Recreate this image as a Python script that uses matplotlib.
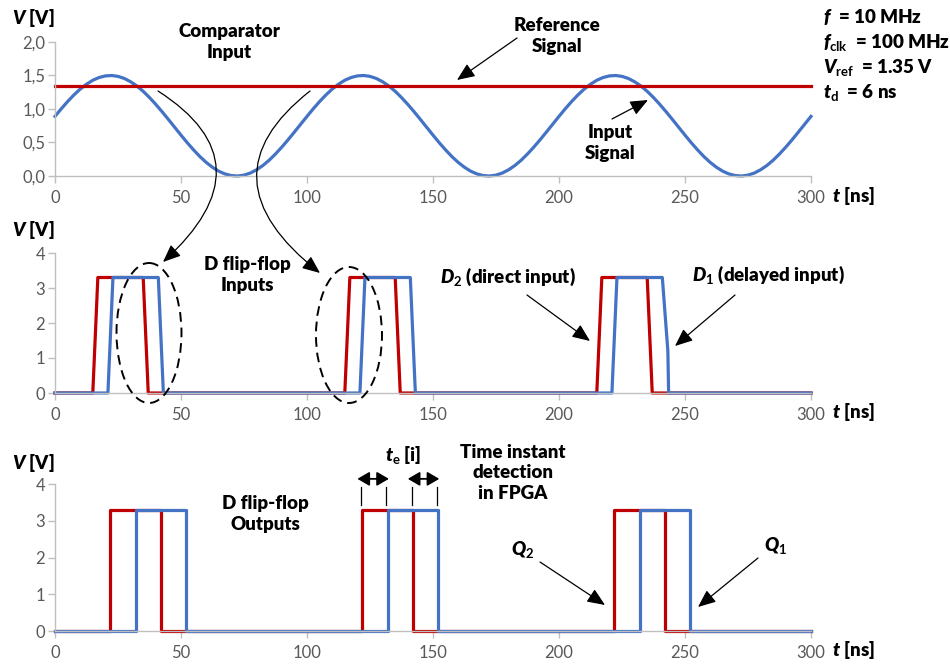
import numpy as np
import matplotlib
matplotlib.use('Agg')
import matplotlib.pyplot as plt
from matplotlib.patches import FancyArrowPatch, Ellipse
from matplotlib.path import Path
from matplotlib.ticker import FuncFormatter

# input signal, one period (f = 10 MHz -> 100 ns), read every 2.5 ns
sine_period = [0.890, 1.004, 1.111, 1.210, 1.297, 1.370, 1.429, 1.470, 1.494, 1.500,
               1.487, 1.456, 1.407, 1.343, 1.264, 1.171, 1.069, 0.959, 0.844, 0.727,
               0.610, 0.496, 0.389, 0.290, 0.203, 0.130, 0.071, 0.030, 0.006, 0.000,
               0.013, 0.044, 0.093, 0.157, 0.236, 0.329, 0.431, 0.541, 0.656, 0.773]
t_sine = np.arange(0, 300.1, 2.5)
v_sine = sine_period * 3 + [sine_period[0]]
v_ref = 1.35

# D flip-flop inputs
d2_t = [0, 15, 17, 35, 37, 115, 117, 135, 137, 215, 217, 235, 237, 300]
d2_v = [0, 0, 3.3, 3.3, 0, 0, 3.3, 3.3, 0, 0, 3.3, 3.3, 0, 0]
d1_t = [0, 21, 23, 41, 43, 121, 123, 141, 143, 221, 223, 241, 243.2, 243.5, 300]
d1_v = [0, 0, 3.3, 3.3, 0, 0, 3.3, 3.3, 0, 0, 3.3, 3.3, 1.2, 0, 0]

# D flip-flop outputs (edges)
q2_rise = [22, 122, 222]
q2_fall = [42, 142, 242]
q1_rise = [32, 132, 232]
q1_fall = [52, 152, 252]
q_high = 3.3

RED = '#C00000'
BLUE = '#4472C4'
W, H = 950, 664

plt.rcParams['font.family'] = ['Lato', 'DejaVu Sans']
plt.rcParams['mathtext.fontset'] = 'custom'
plt.rcParams['mathtext.it'] = 'Lato:italic:heavy'
plt.rcParams['mathtext.rm'] = 'Lato:bold'
plt.rcParams['mathtext.bf'] = 'Lato:bold'


def steps(rise, fall, hi):
    t, v = [0], [0]
    for r, f in zip(rise, fall):
        t += [r, r, f, f]
        v += [0, hi, hi, 0]
    t.append(300)
    v.append(0)
    return t, v


fig = plt.figure(figsize=(W / 100, H / 100), dpi=100)


def px_axes(left, top, right, bottom):
    return fig.add_axes([left / W, 1 - bottom / H, (right - left) / W, (bottom - top) / H])


ax1 = px_axes(55, 42, 811, 176)
ax2 = px_axes(55, 253, 811, 393)
ax3 = px_axes(55, 484, 811, 631)

for ax in (ax1, ax2, ax3):
    for s in ('top', 'right'):
        ax.spines[s].set_visible(False)
    for s in ('left', 'bottom'):
        ax.spines[s].set_color('#BFBFBF')
        ax.spines[s].set_linewidth(1)
    ax.set_xlim(0, 300)
    ax.set_xticks(range(0, 301, 50))
    ax.tick_params(axis='both', colors='#BFBFBF', labelcolor='#595959',
                   length=5, width=1, labelsize=12)
    ax.tick_params(axis='x', pad=5)
    ax.tick_params(axis='y', pad=2)
    ax.patch.set_alpha(0)

ax1.set_ylim(0, 2)
ax1.set_yticks([0, 0.5, 1.0, 1.5, 2.0])
ax1.yaxis.set_major_formatter(FuncFormatter(lambda v, p: ('%.1f' % v).replace('.', ',')))
ax1.plot(t_sine, v_sine, color=BLUE, lw=2.3, clip_on=False)
ax1.plot([0, 300], [v_ref, v_ref], color=RED, lw=2.3, clip_on=False)

for ax in (ax2, ax3):
    ax.set_ylim(0, 4)
    ax.set_yticks(range(0, 5))

ax2.plot(d2_t, d2_v, color=RED, lw=2.3, clip_on=False)
ax2.plot(d1_t, d1_v, color=BLUE, lw=2.3, clip_on=False)

q2_t, q2_v = steps(q2_rise, q2_fall, q_high)
q1_t, q1_v = steps(q1_rise, q1_fall, q_high)
ax3.plot(q2_t, q2_v, color=RED, lw=2.3, clip_on=False)
ax3.plot(q1_t, q1_v, color=BLUE, lw=2.3, clip_on=False)

# t_e markers
for x in (q2_rise[1], q1_rise[1], q2_fall[1], q1_fall[1]):
    ax3.plot([x - 0.5, x - 0.5], [3.43, 3.92], color='black', lw=0.9, clip_on=False)
for a, b in ((q2_rise[1], q1_rise[1]), (q2_fall[1], q1_fall[1])):
    ax3.annotate('', xy=(b + 0.5, 4.14), xytext=(a - 2, 4.14), annotation_clip=False,
                 arrowprops=dict(arrowstyle='<|-|>,head_length=0.6,head_width=0.35',
                                 color='black', lw=1.3, shrinkA=0, shrinkB=0, mutation_scale=12))

# overlay in pixel coordinates for labels and arrows
ov = fig.add_axes([0, 0, 1, 1], zorder=10)
ov.set_xlim(0, W)
ov.set_ylim(H, 0)
ov.axis('off')

tkw = dict(fontsize=13.5, fontweight='heavy', color='black')
for y in (18, 230, 463):
    ov.text(12, y, r'$V$ [V]', ha='left', va='center', **tkw)
for y in (196, 412, 650):
    ov.text(832, y, r'$t$ [ns]', ha='left', va='center', **tkw)

ov.text(229, 42, 'Comparator\nInput', ha='center', va='center', linespacing=1.25, **tkw)
ov.text(557, 36, 'Reference\nSignal', ha='center', va='center', linespacing=1.25, **tkw)
ov.text(610, 143, 'Input\nSignal', ha='center', va='center', linespacing=1.25, **tkw)

params = [r'$f$  = 10 MHz', r'$f_\mathrm{clk}$  = 100 MHz',
          r'$V_\mathrm{ref}$  = 1.35 V', r'$t_\mathrm{d}$  = 6 ns']
for s, y in zip(params, (23, 48, 73, 98)):
    ov.text(823, y, s, ha='left', va='baseline', **tkw)

ov.text(247, 275, 'D flip-flop\nInputs', ha='center', va='center', linespacing=1.25, **tkw)
ov.text(440, 277, r'$D_2$ (direct input)', ha='left', va='center', **tkw)
ov.text(692, 275, r'$D_1$ (delayed input)', ha='left', va='center', **tkw)

ov.text(265, 514, 'D flip-flop\nOutputs', ha='center', va='center', linespacing=1.25, **tkw)
ov.text(403, 455, r'$t_\mathrm{e}$ [i]', ha='center', va='center', **tkw)
ov.text(513, 473, 'Time instant\ndetection\nin FPGA', ha='center', va='center', linespacing=1.25, **tkw)
ov.text(523, 550, r'$Q_2$', ha='center', va='center', **tkw)
ov.text(776, 545, r'$Q_1$', ha='center', va='center', **tkw)

akw = dict(arrowstyle='-|>,head_length=0.9,head_width=0.38', color='black', lw=0.9,
           shrinkA=0, shrinkB=0, mutation_scale=12)
for start, tip in (((517, 38), (457, 80)), ((612, 119), (648, 100)),
                   ((527, 295), (590, 341)), ((735, 295), (675, 346)),
                   ((540, 562), (605, 605)), ((758, 558), (698, 607))):
    ov.annotate('', xy=tip, xytext=start, arrowprops=akw)

# curved arrows from comparator input to flip-flop inputs
for p0, bulge, p2 in (((158, 91), (216, 170), (163, 262)),
                      ((310, 91), (257, 180), (320, 273))):
    ctrl = (2 * bulge[0] - 0.5 * (p0[0] + p2[0]), 2 * bulge[1] - 0.5 * (p0[1] + p2[1]))
    path = Path([p0, ctrl, p2], [Path.MOVETO, Path.CURVE3, Path.CURVE3])
    ov.add_patch(FancyArrowPatch(path=path, transform=ov.transData, **akw))

for c, w, h in (((149, 333), 65, 140), ((349, 335), 66, 136)):
    ov.add_patch(Ellipse(c, w, h, fill=False, ec='black', lw=1.4, ls=(0, (5, 3))))

fig.savefig('out.png', dpi=100)
